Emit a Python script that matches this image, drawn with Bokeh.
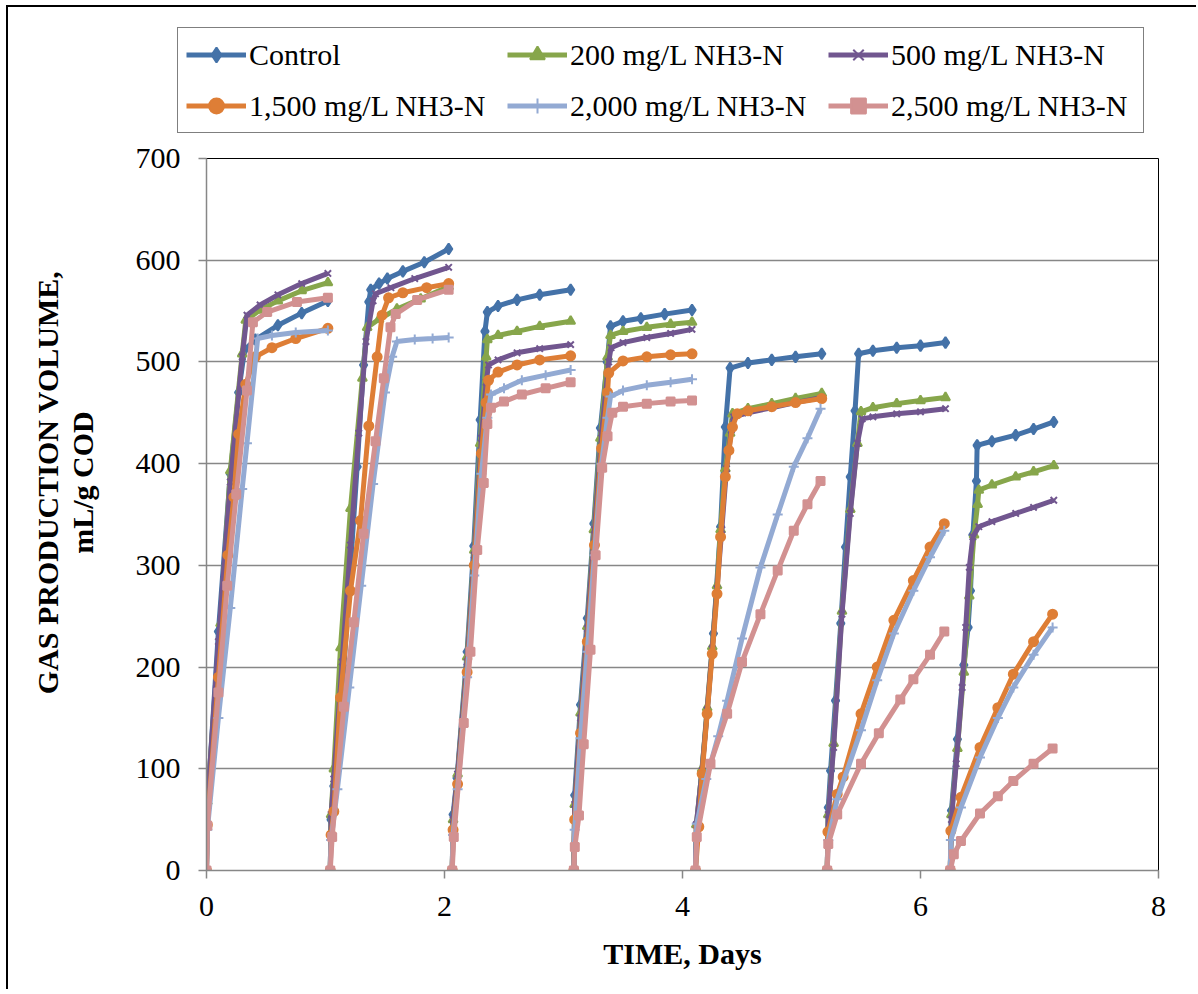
import math
from bokeh.plotting import figure
from bokeh.layouts import column, row
from bokeh.models import Legend, LegendItem, FixedTicker, Label
from bokeh.embed import file_html
from bokeh.resources import INLINE

# ---------------- data ----------------
SERIES = ["Control", "200 mg/L NH3-N", "500 mg/L NH3-N",
          "1,500 mg/L NH3-N", "2,000 mg/L NH3-N", "2,500 mg/L NH3-N"]
X_TICKS = [0, 2, 4, 6, 8]
Y_TICKS = [0, 100, 200, 300, 400, 500, 600, 700]

# each list holds one sub-list per feeding cycle (days / mL per g COD)
CONTROL_T = [
    [0, 0.007, 0.10, 0.20, 0.27, 0.32, 0.41, 0.60, 0.80, 1.02],
    [1.04, 1.047, 1.07, 1.154, 1.21, 1.266, 1.32, 1.364, 1.38, 1.45, 1.52, 1.65, 1.83, 2.035],
    [2.065, 2.072, 2.105, 2.19, 2.246, 2.30, 2.34, 2.36, 2.45, 2.61, 2.80, 3.06],
    [3.087, 3.094, 3.143, 3.20, 3.255, 3.31, 3.367, 3.395, 3.50, 3.65, 3.85, 4.08],
    [4.109, 4.12, 4.207, 4.26, 4.32, 4.36, 4.40, 4.55, 4.75, 4.95, 5.17],
    [5.216, 5.225, 5.244, 5.286, 5.33, 5.37, 5.41, 5.45, 5.48, 5.60, 5.80, 6.00, 6.21],
    [6.25, 6.26, 6.31, 6.364, 6.40, 6.42, 6.44, 6.47, 6.476, 6.60, 6.80, 6.95, 7.12],
]
CONTROL_V = [
    [0, 62, 235, 390, 470, 512, 522, 536, 548, 560],
    [0, 50, 83, 199, 298, 397, 497, 559, 571, 577, 582, 589, 598, 611],
    [0, 55, 91, 215, 319, 443, 530, 549, 555, 561, 566, 571],
    [0, 74, 163, 248, 341, 435, 500, 535, 540, 543, 547, 551],
    [0, 46, 154, 233, 338, 436, 494, 499, 502, 505, 508],
    [0, 62, 98, 167, 243, 318, 387, 452, 508, 511, 514, 516, 519],
    [0, 59, 129, 202, 239, 275, 330, 383, 418, 422, 428, 434, 441],
]

N200_T = [
    [0, 0.007, 0.118, 0.20, 0.30, 0.33, 0.45, 0.60, 0.80, 1.02],
    [1.04, 1.047, 1.07, 1.126, 1.21, 1.31, 1.35, 1.45, 1.60, 1.80, 2.035],
    [2.065, 2.072, 2.11, 2.19, 2.25, 2.30, 2.35, 2.36, 2.45, 2.61, 2.80, 3.06],
    [3.087, 3.094, 3.143, 3.20, 3.255, 3.31, 3.37, 3.395, 3.50, 3.70, 3.90, 4.08],
    [4.109, 4.116, 4.165, 4.207, 4.25, 4.29, 4.32, 4.36, 4.40, 4.42, 4.55, 4.75, 4.95, 5.17],
    [5.216, 5.225, 5.27, 5.34, 5.41, 5.47, 5.50, 5.60, 5.80, 6.00, 6.21],
    [6.25, 6.26, 6.31, 6.364, 6.41, 6.45, 6.48, 6.49, 6.60, 6.80, 6.95, 7.12],
]
N200_V = [
    [0, 68, 243, 393, 508, 541, 551, 560, 570, 578],
    [0, 55, 100, 219, 356, 484, 534, 542, 552, 562, 574],
    [0, 50, 95, 210, 315, 420, 505, 522, 526, 530, 535, 540],
    [0, 65, 155, 240, 335, 425, 505, 526, 530, 534, 537, 539],
    [0, 45, 100, 160, 220, 280, 335, 395, 430, 449, 454, 459, 464, 469],
    [0, 55, 125, 255, 355, 420, 451, 455, 459, 462, 465],
    [0, 55, 120, 195, 270, 330, 360, 374, 379, 387, 392, 398],
]

N500_T = [
    [0, 0.007, 0.10, 0.20, 0.30, 0.34, 0.45, 0.60, 0.80, 1.02],
    [1.04, 1.047, 1.07, 1.14, 1.21, 1.28, 1.34, 1.40, 1.42, 1.55, 1.75, 2.035],
    [2.065, 2.072, 2.11, 2.19, 2.25, 2.31, 2.35, 2.37, 2.45, 2.61, 2.80, 3.06],
    [3.087, 3.094, 3.143, 3.20, 3.26, 3.32, 3.38, 3.40, 3.50, 3.70, 3.90, 4.08],
    [4.109, 4.116, 4.165, 4.207, 4.25, 4.29, 4.33, 4.37, 4.41, 4.43, 4.55, 4.75, 4.95, 5.17],
    [5.216, 5.225, 5.27, 5.34, 5.41, 5.47, 5.51, 5.60, 5.80, 6.00, 6.21],
    [6.25, 6.26, 6.30, 6.35, 6.38, 6.41, 6.44, 6.49, 6.60, 6.80, 6.95, 7.12],
]
N500_V = [
    [0, 65, 225, 382, 505, 546, 556, 566, 577, 587],
    [0, 55, 90, 205, 320, 430, 520, 560, 567, 573, 582, 593],
    [0, 50, 95, 205, 310, 425, 480, 497, 502, 509, 513, 517],
    [0, 65, 150, 238, 335, 430, 500, 514, 519, 524, 528, 532],
    [0, 45, 98, 158, 218, 277, 335, 395, 433, 446, 450, 455, 460, 465],
    [0, 55, 121, 252, 351, 420, 444, 446, 449, 451, 454],
    [0, 50, 105, 180, 239, 298, 328, 338, 343, 351, 357, 364],
]

N1500_T = [
    [0, 0.007, 0.10, 0.18, 0.23, 0.27, 0.33, 0.41, 0.55, 0.75, 1.02],
    [1.04, 1.047, 1.07, 1.126, 1.21, 1.294, 1.364, 1.434, 1.476, 1.53, 1.65, 1.85, 2.035],
    [2.065, 2.072, 2.11, 2.19, 2.25, 2.31, 2.35, 2.37, 2.45, 2.61, 2.80, 3.06],
    [3.087, 3.094, 3.143, 3.20, 3.26, 3.32, 3.37, 3.38, 3.50, 3.70, 3.90, 4.08],
    [4.109, 4.137, 4.165, 4.207, 4.25, 4.29, 4.32, 4.36, 4.39, 4.42, 4.46, 4.55, 4.75, 4.95, 5.17],
    [5.216, 5.222, 5.30, 5.35, 5.50, 5.636, 5.776, 5.94, 6.08, 6.20],
    [6.25, 6.255, 6.34, 6.50, 6.65, 6.78, 6.95, 7.11],
]
N1500_V = [
    [0, 45, 190, 310, 367, 429, 478, 505, 514, 523, 533],
    [0, 35, 58, 170, 275, 344, 437, 505, 546, 563, 568, 573, 577],
    [0, 40, 85, 195, 300, 410, 460, 482, 490, 497, 502, 506],
    [0, 50, 135, 225, 320, 415, 470, 489, 501, 505, 507, 508],
    [0, 43, 95, 154, 213, 272, 328, 387, 413, 436, 449, 452, 456, 460, 464],
    [0, 38, 75, 92, 154, 200, 246, 285, 318, 341],
    [0, 39, 72, 121, 160, 193, 225, 252],
]

N2000_T = [
    [0, 0.007, 0.10, 0.20, 0.30, 0.34, 0.43, 0.55, 0.75, 1.02],
    [1.04, 1.047, 1.10, 1.20, 1.30, 1.40, 1.50, 1.56, 1.60, 1.75, 1.90, 2.035],
    [2.065, 2.072, 2.11, 2.19, 2.25, 2.31, 2.36, 2.39, 2.50, 2.65, 2.85, 3.06],
    [3.087, 3.094, 3.143, 3.20, 3.26, 3.32, 3.37, 3.395, 3.50, 3.70, 3.90, 4.08],
    [4.109, 4.12, 4.20, 4.30, 4.375, 4.50, 4.655, 4.80, 4.935, 5.05, 5.16],
    [5.216, 5.225, 5.30, 5.50, 5.636, 5.776, 5.94, 6.08, 6.20],
    [6.25, 6.255, 6.34, 6.50, 6.65, 6.78, 6.95, 7.11],
]
N2000_V = [
    [0, 40, 150, 258, 375, 420, 523, 526, 529, 531],
    [0, 30, 80, 180, 280, 380, 470, 505, 520, 522, 523, 524],
    [0, 35, 80, 190, 290, 390, 445, 468, 474, 482, 487, 492],
    [0, 40, 130, 215, 310, 400, 445, 466, 472, 477, 480, 483],
    [0, 46, 90, 132, 167, 228, 298, 350, 397, 425, 454],
    [0, 30, 70, 138, 187, 233, 275, 308, 334],
    [0, 30, 62, 111, 150, 180, 212, 239],
]

N2500_T = [
    [0, 0.007, 0.10, 0.174, 0.25, 0.34, 0.39, 0.51, 0.76, 1.02],
    [1.04, 1.056, 1.154, 1.238, 1.32, 1.42, 1.49, 1.546, 1.59, 1.77, 2.035],
    [2.065, 2.078, 2.162, 2.218, 2.275, 2.33, 2.36, 2.39, 2.50, 2.65, 2.85, 3.06],
    [3.087, 3.095, 3.13, 3.17, 3.227, 3.27, 3.325, 3.37, 3.41, 3.50, 3.70, 3.90, 4.08],
    [4.109, 4.12, 4.235, 4.375, 4.50, 4.655, 4.80, 4.935, 5.05, 5.16],
    [5.216, 5.225, 5.30, 5.50, 5.65, 5.83, 5.94, 6.08, 6.20],
    [6.25, 6.28, 6.34, 6.50, 6.65, 6.78, 6.95, 7.11],
]
N2500_V = [
    [0, 44, 175, 280, 370, 472, 539, 549, 559, 563],
    [0, 33, 161, 244, 331, 422, 484, 534, 547, 561, 571],
    [0, 33, 145, 215, 315, 381, 439, 455, 461, 468, 474, 480],
    [0, 23, 54, 124, 217, 310, 396, 427, 450, 456, 459, 461, 462],
    [0, 33, 105, 154, 205, 252, 295, 334, 360, 383],
    [0, 26, 55, 105, 135, 168, 188, 212, 235],
    [0, 16, 29, 56, 73, 88, 105, 120],
]

Y_TITLE_LINES = ["GAS PRODUCTION VOLUME,", "mL/g COD"]
X_TITLE = "TIME, Days"

# ---------------- styling ----------------
COLORS = ["#4472A8", "#87A64B", "#71568F", "#DE7E36", "#93AAD3", "#D29191"]
MARKERS = ["diamond", "triangle", "x", "circle", "cross", "square"]
MSIZES = [11, 9, 9, 9, 10, 8]
FONT = "Liberation Serif"
GRAY = "#878787"

DATA = [(CONTROL_T, CONTROL_V), (N200_T, N200_V), (N500_T, N500_V),
        (N1500_T, N1500_V), (N2000_T, N2000_V), (N2500_T, N2500_V)]


def with_breaks(cycles_t, cycles_v):
    xs, ys = [], []
    for t, v in zip(cycles_t, cycles_v):
        xs += list(t) + [math.nan]
        ys += list(v) + [math.nan]
    return xs[:-1], ys[:-1]


def flat(cycles):
    out = []
    for c in cycles:
        out += list(c)
    return out


W = 1188
LEG_H = 127
MAIN_H = 855
TW = 120                      # width of the strip holding the y-axis title

# ---- legend strip (its own small figure above the chart; its ranges lie
#      outside the data so only the legend itself shows) ----
pl = figure(width=W, height=LEG_H, x_range=(100, 101), y_range=(1000, 1001),
            output_backend="svg", toolbar_location=None,
            x_axis_type=None, y_axis_type=None, min_border=0,
            background_fill_color="white", border_fill_color="white")
pl.outline_line_color = None
pl.xgrid.visible = False
pl.ygrid.visible = False
pl.frame_align = False

# ---- y-axis title strip ----
pt = figure(width=TW, height=MAIN_H, x_range=(0, 1), y_range=(0, 1),
            output_backend="svg", toolbar_location=None,
            x_axis_type=None, y_axis_type=None, min_border=0,
            background_fill_color="white", border_fill_color="white")
pt.outline_line_color = None
pt.xgrid.visible = False
pt.ygrid.visible = False
pt.frame_align = False
for txt, sx in zip(Y_TITLE_LINES, [39, 74]):
    pt.add_layout(Label(x=sx, y=MAIN_H - 348, x_units="screen", y_units="screen",
                        text=txt, angle=math.pi / 2, text_align="center",
                        text_baseline="middle", text_font=FONT,
                        text_font_size="30px", text_font_style="bold",
                        text_color="black"))

# ---- main chart ----
p = figure(width=W - TW, height=MAIN_H, x_range=(0, 8), y_range=(0, 700),
           output_backend="svg", toolbar_location=None,
           min_border_left=198 - TW, min_border_right=38,
           min_border_top=24, min_border_bottom=119,
           background_fill_color="white", border_fill_color="white")
p.frame_align = False

p.outline_line_color = "black"
p.outline_line_width = 1

p.xgrid.visible = False
p.ygrid.grid_line_color = GRAY
p.ygrid.grid_line_width = 1.5
p.xaxis.ticker = FixedTicker(ticks=X_TICKS)
p.yaxis.ticker = FixedTicker(ticks=Y_TICKS)

for ax in (p.xaxis, p.yaxis):
    ax.axis_line_color = GRAY
    ax.axis_line_width = 1.5
    ax.major_tick_line_color = GRAY
    ax.major_tick_line_width = 1.5
    ax.major_tick_out = 8
    ax.major_tick_in = 0
    ax.minor_tick_line_color = None
    ax.major_label_text_font = FONT
    ax.major_label_text_font_size = "30px"
    ax.major_label_text_color = "black"
    ax.axis_label_text_font = FONT
    ax.axis_label_text_font_size = "30px"
    ax.axis_label_text_font_style = "bold"
    ax.axis_label_text_color = "black"

p.xaxis.major_label_standoff = 18
p.yaxis.major_label_standoff = 18
p.xaxis.axis_label = X_TITLE
p.xaxis.axis_label_standoff = 18

items = []
for name, (ct, cv), col, mk, ms in zip(SERIES, DATA, COLORS, MARKERS, MSIZES):
    lx, ly = with_breaks(ct, cv)
    sx, sy = flat(ct), flat(cv)
    p.line(lx, ly, line_color=col, line_width=5)
    p.scatter(sx, sy, marker=mk, size=ms,
              fill_color=col, line_color=col, line_width=2)
    # same series in the legend strip (out of its view) -> legend swatches
    lr = pl.line(lx, ly, line_color=col, line_width=5)
    sr = pl.scatter(sx, sy, marker=mk, size=ms, fill_color=col,
                    line_color=col, line_width=2)
    items.append(LegendItem(label=name, renderers=[lr, sr]))

legend = Legend(items=items, orientation="horizontal", ncols=3,
                location=(169, 1),
                border_line_color="black", border_line_width=1.5,
                background_fill_color="white", background_fill_alpha=1,
                label_text_font=FONT, label_text_font_size="30px",
                label_text_color="black",
                glyph_width=60, glyph_height=37, label_height=37,
                label_standoff=3, label_width=244,
                padding=8, spacing=14, margin=0)
pl.add_layout(legend)

layout = column(pl, row(pt, p, spacing=0), spacing=0)
layout.margin = (5, 0, 0, 6)
layout.styles = {"border-left": "2px solid black", "border-top": "2px solid black"}

open("out.html", "w").write(file_html(layout, INLINE))
